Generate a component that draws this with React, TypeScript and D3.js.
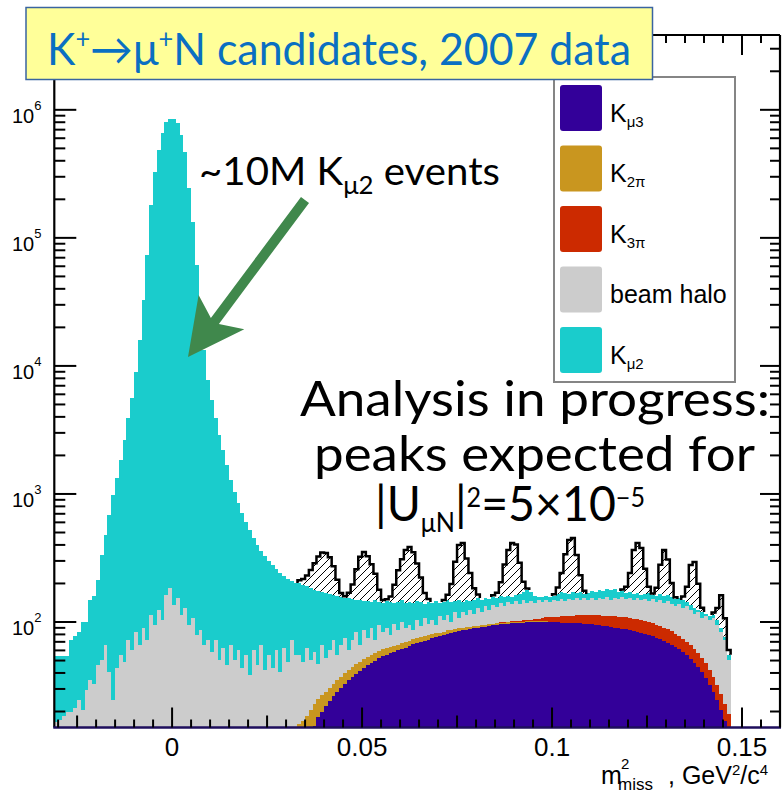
import React from "react";
import * as d3 from "d3";

const WIDTH = 784;
const HEIGHT = 793;

// Histogram binning in m²_miss (GeV²/c⁴)
const BIN_WIDTH = 0.001;
const FIRST_EDGE = -0.031;
const X_DOMAIN: [number, number] = [-0.031, 0.16];
const Y_DOMAIN: [number, number] = [15, 3.84e6];

const X_LABEL_VALUES = [0, 0.05, 0.1, 0.15];
const X_LABEL_TEXT = ["0", "0.05", "0.1", "0.15"];
const Y_DECADES = [2, 3, 4, 5, 6];

// Stack order, bottom to top
const SERIES_KEYS = ["kmu3", "k2pi", "k3pi", "halo", "kmu2"];
const SERIES_COLORS = ["#330099", "#c9961f", "#cc2a00", "#cccccc", "#1acccc"];

// Legend entries, top to bottom: [main text, subscript]
const LEGEND_LABELS: [string, string][] = [
  ["K", "μ3"],
  ["K", "2π"],
  ["K", "3π"],
  ["beam halo", ""],
  ["K", "μ2"],
];
const LEGEND_COLORS = ["#330099", "#c9961f", "#cc2a00", "#cccccc", "#1acccc"];

// K_mu2 counts per bin, starting at FIRST_EDGE
const kmu2 = [
  37.7, 37, 36, 34.5, 52.5, 56.4, 59, 79.5, 70.6, 113,
  127, 167, 283, 412, 645, 957, 1289, 1788, 2593, 3852,
  5563, 8894, 15894, 32690, 73578, 180900, 327700, 486900, 661300, 805400,
  850400, 850400, 791000, 637700, 469700, 245700, 133300, 61440, 27300, 13270,
  7704, 5367, 3852, 2840, 2144, 1639, 1221, 986, 790, 667,
  549, 485, 393, 354, 293, 286, 245, 235, 199, 201,
  166, 168, 137, 147,
  146.5, 146, 128.5, 134, 119.5, 127.7, 105.5, 116, 105, 90,
  104, 90.7, 79, 93.6, 79, 65, 82.4, 59.3, 71, 53.5,
  76, 48.6, 57, 56, 64, 44, 56.7, 48.5, 51, 48.6,
  54, 42, 50, 30.7, 47, 37, 51, 29, 39.6, 35,
  43, 26, 41, 23.6, 35, 22, 33, 25.4, 29, 20.6,
  27, 21, 23, 19, 23.4, 16.3, 18.6, 16.6, 27.3, 23,
  37, 25.7, 19, 8.3, 13.5, 11, 13.5, 11, 19.6, 20.3,
  22.6, 14.2, 23, 14.5, 23, 11.5, 20, 20.7, 23, 23.8,
  23.4, 24.3, 29.3, 27, 20.3, 18, 17.2, 17.6, 17, 14.5,
  14, 14.2, 22.6, 11.2, 16.3, 17, 19, 16.6, 18.6, 18,
  15.8, 20, 10, 11.7, 13, 4.4, 12, 4, 7.7, 6,
  9, 6.3, 5, 5,
];

// Beam halo counts per bin, starting at FIRST_EDGE
const beamHalo = [
  16.6, 17.1, 18.4, 19.8, 19.8, 21.3, 24.6, 20.5, 29.4, 35.2,
  32.8, 46.1, 50.5, 66.1, 40.7, 24.6, 43.7, 55.2, 48.7, 72.3,
  60.4, 83.5, 66.1, 89.8, 72.3, 113.4, 94.7, 124.1, 103.7, 162.5,
  184.4, 135.8, 154, 113.4, 128.6, 94.7, 107.5, 79.1, 86.6, 66.1,
  72.3, 58.3, 72.3, 50.5, 62.6, 46.1, 66.1, 50.5, 60.4, 43.7,
  55.2, 38.5, 60.4, 46.1, 66.1, 42.2, 55.2, 43.7, 60.4, 40.7,
  62.6, 48.7, 72.3, 55.2,
  39, 32, 44, 30, 35, 22, 39, 24, 30, 39,
  20, 29, 35, 18, 28, 36.5, 17, 35, 21.5, 34,
  15, 36, 22.5, 27, 15, 31, 20, 32, 20, 23,
  13, 29, 17, 30, 18, 24, 13, 29, 20, 27,
  13, 31, 18, 30, 22, 32, 22.5, 35, 25, 38,
  28, 39, 32.5, 41, 33, 42.5, 37, 44, 35.5, 45.5,
  36.5, 41.5, 35, 42, 36, 40, 34, 39, 36, 41,
  34.5, 39, 36.5, 41, 35.5, 41, 35.5, 41, 36, 41.5,
  39, 45, 37.5, 43.5, 41, 47, 43, 46, 42, 48.5,
  44.5, 49, 45, 53, 48, 55.5, 50, 58.5, 54, 52,
  61, 54.5, 63.5, 58, 54, 62.5, 55, 64, 61, 70,
  62, 56, 49, 31.5,
];

// K_mu3 counts per bin, starting at 0.033
const kmu3Start = 0.033;
const kmu3 = [
  6, 8, 10, 12.5, 15.5, 18, 20, 22, 24, 26.5,
  28.5, 30.5, 33, 35.5, 37.5, 39.5, 41.5, 44, 46, 48,
  50, 52, 54, 55.5, 57, 58.5, 60, 61.5, 63, 65,
  67, 68.5, 70, 71.5, 73, 74.5, 76, 77.5, 79, 81,
  82.5, 84, 85, 86, 87, 88, 89, 90, 91, 92,
  93, 94, 95, 96, 96.5, 97, 97.5, 98, 98.5, 99,
  99.5, 99.5, 100, 100, 100, 100, 100, 99.5, 99.5, 99,
  99, 98.5, 98, 98, 97.5, 97, 96.5, 96, 95, 94.5,
  93.5, 92.5, 91.5, 90.5, 89.5, 88.5, 87.5, 86.5, 85, 84,
  82.5, 81, 79.5, 77.5, 75.5, 73.5, 71.5, 69, 66.5, 64,
  61, 58, 55, 51.5, 48, 44.5, 40.5, 36.5, 32.5, 28.5,
  24.5, 20.5, 17, 14,
];

// K_2pi counts per bin, starting at 0.033
const k2piStart = 0.033;
const k2pi = [
  10, 9, 8.5, 8, 7.5, 7, 7, 6.5, 6.5, 6.5,
  6.5, 6.5, 7, 7, 7, 7.5, 7.5, 7.5, 7.5, 7.5,
  7, 7, 7, 7, 7, 7, 6.5, 6.5, 6.5, 6.5,
  6.5, 6.5, 6, 6, 5.5, 5.5, 5.5, 5, 5, 5,
  4.5, 4.5, 4.5, 4, 4, 4, 4, 3.5, 3.5, 3.5,
  3, 3, 3, 2.5, 2.5, 2.5, 2, 2, 2, 1.5,
  1.5, 1.5, 1, 1, 1, 1, 0.5, 0.5,
];

// K_3pi counts per bin, starting at 0.085
const k3piStart = 0.085;
const k3pi = [
  0.5, 0.8, 1, 1.2, 1.5, 1.8, 2, 2.5, 3, 3.5,
  4.5, 5.5, 6.5, 7.5, 8.5, 9.5, 10.5, 11.5, 12.5, 13.5,
  14, 15, 15.5, 16, 16.5, 17, 17.5, 18, 18.5, 19,
  19.5, 20, 20.5, 21, 21, 21.5, 21.5, 21.5, 21.5, 21,
  21, 20.5, 20, 19.5, 19, 18.5, 18, 17, 16.5, 16,
  15, 14.5, 13.5, 12.5, 12, 11, 10, 9, 8, 7,
  6, 5,
];

// Expected heavy-neutrino signal on top of the total, starting at 0.033
const signalStart = 0.033;
const signal = [
  10, 22, 40, 70, 110, 150, 178, 178, 155, 110,
  55, 12, 5, 15, 45, 110, 175, 206, 180, 140,
  90, 35, 8, 5, 15, 55, 110, 160, 224, 242,
  210, 140, 80, 30, 8, 0, 0, 0, 5, 15,
  55, 150, 251, 271, 165, 95, 35, 10, 0, 0,
  0, 5, 15, 45, 125, 205, 257, 240, 125, 35,
  5, 0, 0, 0, 0, 0, 0, 5, 20, 70,
  170, 272, 281, 165, 60, 10, 0, 0, 0, 0,
  0, 0, 0, 0, 0, 5, 20, 70, 200, 246,
  216, 95, 20, 5, 25, 114, 205, 145, 45, 5,
  0, 10, 45, 143, 166, 75, 10, 0, 0, 5,
  25, 72, 30, 5,
];

const PLOT = { left: 54.3, right: 780, top: 35, bottom: 727.5 };

const binOffset = (start: number) => Math.round((start - FIRST_EDGE) / BIN_WIDTH);
const edge = (i: number) => FIRST_EDGE + i * BIN_WIDTH;

type Row = { [k: string]: number };

function buildRows(): Row[] {
  const n = kmu2.length;
  const o3 = binOffset(kmu3Start);
  const o2 = binOffset(k2piStart);
  const o3p = binOffset(k3piStart);
  return d3.range(n).map((i) => ({
    kmu3: kmu3[i - o3] ?? 0,
    k2pi: k2pi[i - o2] ?? 0,
    k3pi: k3pi[i - o3p] ?? 0,
    halo: beamHalo[i] ?? 0,
    kmu2: kmu2[i] ?? 0,
  }));
}

function Arrow({ tail, tip }: { tail: [number, number]; tip: [number, number] }) {
  const dx = tail[0] - tip[0];
  const dy = tail[1] - tip[1];
  const len = Math.hypot(dx, dy);
  const u = [dx / len, dy / len];
  const n = [-u[1], u[0]];
  const p = (a: number, b: number) =>
    `${tip[0] + u[0] * a + n[0] * b},${tip[1] + u[1] * a + n[1] * b}`;
  const pts = [
    p(0, 0),
    p(56, 28.5),
    p(45, 5),
    p(len, 5),
    p(len, -5),
    p(45, -5),
    p(56, -28.5),
  ].join(" ");
  return <polygon points={pts} fill="#40884c" />;
}

export default function App() {
  const x = d3.scaleLinear().domain(X_DOMAIN).range([PLOT.left, PLOT.right]);
  const y = d3.scaleLog().domain(Y_DOMAIN).range([PLOT.bottom, PLOT.top]).clamp(true);
  const yv = (v: number) => y(Math.max(v, Y_DOMAIN[0]));

  const rows = buildRows();
  const stacked = d3.stack<Row>().keys(SERIES_KEYS)(rows);
  const nBins = rows.length;

  type P = { x: number; v: number };
  const steps = (tops: number[]): P[] =>
    tops.flatMap((v, i) => [
      { x: edge(i), v },
      { x: edge(i + 1), v },
    ]);
  const area = d3
    .area<P>()
    .x((d) => x(d.x))
    .y0(y(Y_DOMAIN[0]))
    .y1((d) => yv(d.v));

  // cumulative tops per layer
  const layers = stacked.map((s, k) => ({
    key: SERIES_KEYS[k],
    color: SERIES_COLORS[k],
    tops: s.map((d) => d[1]),
  }));
  const total = layers[layers.length - 1].tops;

  // signal runs on top of the total
  const sOff = binOffset(signalStart);
  const sig = d3.range(nBins).map((i) => signal[i - sOff] ?? 0);
  const runs: [number, number][] = [];
  let startRun = -1;
  sig.forEach((s, i) => {
    if (s > 0 && startRun < 0) startRun = i;
    if ((s <= 0 || i === nBins - 1) && startRun >= 0) {
      runs.push([startRun, s > 0 ? i : i - 1]);
      startRun = -1;
    }
  });
  const line = d3
    .line<[number, number]>()
    .x((d) => d[0])
    .y((d) => d[1]);
  const peakShapes = runs.map(([a, b]) => {
    const top: [number, number][] = [[x(edge(a)), yv(total[a])]];
    for (let i = a; i <= b; i++) {
      const h = yv(total[i] + sig[i]);
      top.push([x(edge(i)), h], [x(edge(i + 1)), h]);
    }
    top.push([x(edge(b + 1)), yv(total[b])]);
    const bottom: [number, number][] = [];
    for (let i = b; i >= a; i--) {
      bottom.push([x(edge(i + 1)), yv(total[i])], [x(edge(i)), yv(total[i])]);
    }
    return { outline: line(top) ?? "", fill: (line([...top, ...bottom]) ?? "") + "Z" };
  });

  // axis ticks
  const xTicks = d3
    .range(-30, 161, 5)
    .map((t) => ({ v: t / 1000, kind: t % 50 === 0 ? 2 : t % 25 === 0 ? 1 : 0 }))
    .filter((t) => t.v >= X_DOMAIN[0] && t.v <= X_DOMAIN[1]);
  const xLen = [8, 12, 20];
  const yTicks: { v: number; major: boolean }[] = [];
  for (let e = 1; e <= 6; e++) {
    for (let j = 1; j <= 9; j++) {
      const v = j * Math.pow(10, e);
      if (v >= Y_DOMAIN[0] && v <= Y_DOMAIN[1]) yTicks.push({ v, major: j === 1 });
    }
  }

  const rootFont = "'Liberation Sans', Arial, Helvetica, sans-serif";
  const noteFont = "Lato, 'Open Sans', sans-serif";

  return (
    <svg
      width={WIDTH}
      height={HEIGHT}
      viewBox={`0 0 ${WIDTH} ${HEIGHT}`}
      style={{ position: "absolute", left: 0, top: 0, background: "#fff" }}
    >
      <defs>
        <clipPath id="plot-clip">
          <rect x={PLOT.left} y={PLOT.top} width={PLOT.right - PLOT.left} height={PLOT.bottom - PLOT.top} />
        </clipPath>
        <pattern id="hatch" width={8} height={8} patternUnits="userSpaceOnUse">
          <path d="M-2,2 L2,-2 M0,8 L8,0 M6,10 L10,6" stroke="#000" strokeWidth={1} />
        </pattern>
      </defs>
      <rect x={0} y={0} width={WIDTH} height={HEIGHT} fill="#fff" />

      {/* stacked histograms */}
      <g clipPath="url(#plot-clip)">
        {[...layers].reverse().map((l) => (
          <path key={l.key} d={area(steps(l.tops)) ?? ""} fill={l.color} shapeRendering="crispEdges" />
        ))}
        {peakShapes.map((p, i) => (
          <g key={i}>
            <path d={p.fill} fill="url(#hatch)" />
            <path d={p.outline} fill="none" stroke="#000" strokeWidth={2.5} strokeLinejoin="miter" />
          </g>
        ))}
      </g>

      {/* frame */}
      <g fill="none" strokeWidth={2.2}>
        <line x1={PLOT.left} x2={PLOT.right} y1={PLOT.top} y2={PLOT.top} stroke="#000" />
        <line x1={PLOT.right} x2={PLOT.right} y1={PLOT.top} y2={PLOT.bottom} stroke="#000" />
        <line x1={PLOT.left} x2={PLOT.left} y1={PLOT.top} y2={PLOT.bottom} stroke="#000" />
        <line x1={PLOT.left - 1} x2={PLOT.right + 1} y1={PLOT.bottom} y2={PLOT.bottom} stroke="#1e0e5c" strokeWidth={2.6} />
      </g>

      {/* x ticks, bottom and top */}
      <g stroke="#000" strokeWidth={2}>
        {xTicks.map((t, i) => (
          <g key={i}>
            <line x1={x(t.v)} x2={x(t.v)} y1={PLOT.bottom} y2={PLOT.bottom - xLen[t.kind]} />
            <line x1={x(t.v)} x2={x(t.v)} y1={PLOT.top} y2={PLOT.top + xLen[t.kind]} />
          </g>
        ))}
      </g>
      {/* y ticks, left and right */}
      <g stroke="#000" strokeWidth={2}>
        {yTicks.map((t, i) => (
          <g key={i}>
            <line x1={PLOT.left} x2={PLOT.left + (t.major ? 22 : 11)} y1={y(t.v)} y2={y(t.v)} />
            <line x1={PLOT.right} x2={PLOT.right - (t.major ? 20 : 10)} y1={y(t.v)} y2={y(t.v)} />
          </g>
        ))}
      </g>

      {/* tick labels */}
      <g fontFamily={rootFont} fill="#000">
        {X_LABEL_VALUES.map((v, i) => (
          <text key={i} x={x(v)} y={756} fontSize={26} textAnchor="middle">
            {X_LABEL_TEXT[i]}
          </text>
        ))}
        {Y_DECADES.map((e) => (
          <text key={e} x={12} y={y(Math.pow(10, e)) + 13} fontSize={20}>
            10
            <tspan dy={-13} fontSize={13}>
              {e}
            </tspan>
          </text>
        ))}
      </g>

      {/* x axis title */}
      <g fontFamily={rootFont} fill="#000">
        <text x={601} y={784} fontSize={25}>m</text>
        <text x={621} y={769} fontSize={15}>2</text>
        <text x={618} y={790} fontSize={17}>miss</text>
        <text x={668} y={784} fontSize={25}>
          , GeV
          <tspan dy={-9} fontSize={15}>2</tspan>
          <tspan dy={9}>/c</tspan>
          <tspan dy={-9} fontSize={15}>4</tspan>
        </text>
      </g>

      {/* legend */}
      <g fontFamily={rootFont}>
        <rect x={554} y={77} width={181} height={305} fill="#fff" stroke="#858585" strokeWidth={2} />
        {LEGEND_LABELS.map(([main, sub], i) => {
          const top = 85 + i * 60.5;
          return (
            <g key={i}>
              <rect x={560} y={top} width={42} height={46} rx={3} fill={LEGEND_COLORS[i]} />
              <text x={610} y={top + 36.5} fontSize={25} fill="#000">
                {main}
                {sub && (
                  <tspan dy={5} fontSize={15}>
                    {sub}
                  </tspan>
                )}
              </text>
            </g>
          );
        })}
      </g>

      {/* title box */}
      <rect x={26} y={7.5} width={626.5} height={72} fill="#ffff99" stroke="#3a64a0" strokeWidth={1.5} />
      <text
        x={47}
        y={65}
        fontFamily={noteFont}
        fontSize={44}
        fill="#0a6fc2"
        textLength={584}
        lengthAdjust="spacingAndGlyphs"
      >
        K<tspan dy={-17} fontSize={26}>+</tspan>
        <tspan dy={17}>→μ</tspan>
        <tspan dy={-17} fontSize={26}>+</tspan>
        <tspan dy={17}>N candidates, 2007 data</tspan>
      </text>

      {/* annotations */}
      <text x={199} y={185} fontFamily={noteFont} fontSize={39} fill="#000" textLength={301} lengthAdjust="spacingAndGlyphs">
        ~10M K<tspan dy={9} fontSize={25}>μ2</tspan>
        <tspan dy={-9}> events</tspan>
      </text>
      <Arrow tail={[305, 200]} tip={[188, 357]} />

      <g fontFamily={noteFont} fontSize={48} fill="#000">
        <text x={300} y={416} textLength={470} lengthAdjust="spacingAndGlyphs">
          Analysis in progress:
        </text>
        <text x={314} y={471} textLength={441} lengthAdjust="spacingAndGlyphs">
          peaks expected for
        </text>
        <text x={375} y={521} textLength={270} lengthAdjust="spacingAndGlyphs">
          |U<tspan dy={11} fontSize={26}>μN</tspan>
          <tspan dy={-11}>|</tspan>
          <tspan dy={-14} fontSize={26}>2</tspan>
          <tspan dy={14}>=5×10</tspan>
          <tspan dy={-14} fontSize={26}>−5</tspan>
        </text>
      </g>
    </svg>
  );
}
